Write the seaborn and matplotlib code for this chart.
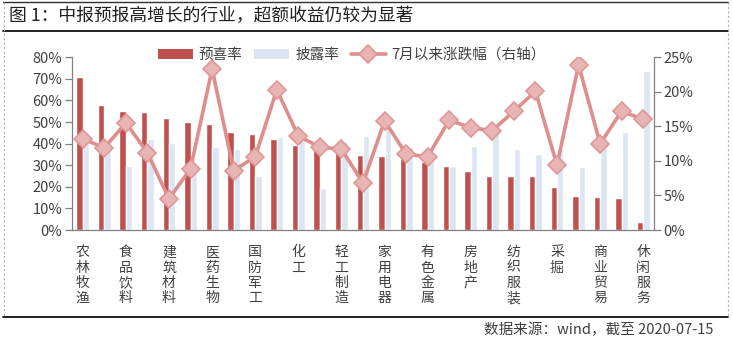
import numpy as np
import pandas as pd
import matplotlib
matplotlib.use("Agg")
import matplotlib.pyplot as plt
from matplotlib.lines import Line2D
from matplotlib.patches import Patch
from matplotlib.ticker import FuncFormatter, FixedLocator
import seaborn as sns

# ---------------- data ----------------
shown_labels = ["农林牧渔", "食品饮料", "建筑材料", "医药生物", "国防军工", "化工", "轻工制造",
                "家用电器", "有色金属", "房地产", "纺织服装", "采掘", "商业贸易", "休闲服务"]
# 27 industries, only every other one is labelled in the source chart
n_cat = 27
yuxi_rate = [71.0, 58.0, 55.1, 54.7, 52.0, 50.0, 49.1, 45.5, 44.5, 42.3, 39.5, 38.3, 36.3, 34.8,
             34.3, 34.0, 31.6, 29.7, 27.3, 25.0, 25.0, 25.0, 19.9, 15.8, 15.3, 14.8, 3.7]
pilu_rate = [44.7, 38.0, 29.8, 42.3, 40.4, 30.1, 38.6, 37.6, 25.1, 43.2, 45.9, 19.6, 41.3, 43.7,
             47.5, 38.4, 35.8, 29.7, 38.9, 45.5, 37.5, 35.2, 37.4, 29.3, 39.0, 45.5, 73.7]
july_change = [13.2, 11.9, 15.5, 11.2, 4.5, 8.9, 23.3, 8.6, 10.6, 20.3, 13.6, 12.0, 11.7, 6.8,
               15.8, 11.0, 10.6, 15.9, 14.8, 14.4, 17.2, 20.1, 9.4, 23.9, 12.5, 17.2, 16.0]
series_names = ["预喜率", "披露率"]
line_name = "7月以来涨跌幅（右轴）"
title = "图 1：中报预报高增长的行业，超额收益仍较为显著"
source = "数据来源：wind，截至 2020-07-15"

pos = list(range(n_cat))
df_bar = pd.DataFrame({
    "pos": pos * 2,
    "value": yuxi_rate + pilu_rate,
    "series": [series_names[0]] * n_cat + [series_names[1]] * n_cat,
})
df_line = pd.DataFrame({"pos": pos, "value": july_change})

# ---------------- style ----------------
sns.set_theme(style="white")
plt.rcParams["font.family"] = ["Noto Sans CJK SC", "DejaVu Sans"]
plt.rcParams["axes.unicode_minus"] = False

red = "#C0504D"
blue = "#DCE6F2"
line_c = "#DF8E8C"
mk_face = "#E8B5B4"
mk_edge = "#DE9896"
txt_c = "#404040"
axis_c = "#808080"

fig = plt.figure(figsize=(7.33, 3.42), dpi=100)
ax = fig.add_axes([72 / 733, 1 - 230 / 342, (654 - 72) / 733, (230 - 57.3) / 342])

sns.barplot(data=df_bar, x="pos", y="value", hue="series", order=pos,
            hue_order=series_names, palette=[red, blue], width=0.6, gap=0,
            saturation=1, ax=ax, legend=False)
ax.set_ylim(0, 80)
ax.set_xlim(-0.5, n_cat - 0.5)
ax.yaxis.set_major_locator(FixedLocator(np.arange(0, 81, 10)))
ax.yaxis.set_major_formatter(FuncFormatter(lambda v, p: f"{v:.0f}%"))
ax.set_xlabel("")
ax.set_ylabel("")

# x ticks: labels at every other category, tick marks at category boundaries
ax.set_xticks(pos[::2])
ax.set_xticklabels(["\n".join(s) for s in shown_labels], fontsize=10, color=txt_c,
                   linespacing=1.12, va="top")
ax.tick_params(axis="x", which="major", length=0, pad=11)
ax.set_xticks(np.arange(-0.5, n_cat, 1.0), minor=True)
ax.tick_params(axis="x", which="minor", length=5, width=0.9, color=axis_c, direction="out")
ax.tick_params(axis="y", length=5, width=0.9, color=axis_c, direction="out",
               labelsize=10.5, labelcolor=txt_c, pad=2, left=True)

for s in ["top", "right"]:
    ax.spines[s].set_visible(False)
for s in ["left", "bottom"]:
    ax.spines[s].set_color(axis_c)
    ax.spines[s].set_linewidth(0.9)

ax2 = ax.twinx()
sns.lineplot(data=df_line, x="pos", y="value", ax=ax2, color=line_c, linewidth=2.6,
             marker="D", markersize=9, markerfacecolor=mk_face, markeredgecolor=mk_edge,
             markeredgewidth=1.2, legend=False)
ax2.set_ylim(0, 25)
ax2.set_xlim(-0.5, n_cat - 0.5)
ax2.yaxis.set_major_locator(FixedLocator(np.arange(0, 26, 5)))
ax2.yaxis.set_major_formatter(FuncFormatter(lambda v, p: f"{v:.0f}%"))
ax2.set_ylabel("")
ax2.set_xlabel("")
ax2.tick_params(axis="y", length=5, width=0.9, color=axis_c, direction="out",
                labelsize=10.5, labelcolor=txt_c, pad=2, right=True)
for s in ["top", "left", "bottom"]:
    ax2.spines[s].set_visible(False)
ax2.spines["right"].set_color(axis_c)
ax2.spines["right"].set_linewidth(0.9)
ax2.grid(False)
ax.grid(False)

# legend
handles = [Patch(facecolor=red, edgecolor="none"),
           Patch(facecolor=blue, edgecolor="none"),
           Line2D([], [], color=line_c, linewidth=2.6, marker="D", markersize=9,
                  markerfacecolor=mk_face, markeredgecolor=mk_edge, markeredgewidth=1.2)]
fig.legend(handles, series_names + [line_name], loc="center left",
           bbox_to_anchor=(158 / 733, 1 - 55 / 342), ncol=3, frameon=False,
           fontsize=10.5, labelcolor=txt_c, handlelength=2.4, handleheight=0.75,
           handletextpad=0.4, columnspacing=0.8, borderaxespad=0, borderpad=0)

# title, source, frame lines
fig.text(9 / 733, 1 - 15.5 / 342, title, fontsize=12.8, color="#202020", va="center", ha="left")
fig.text(713 / 733, 1 - 330 / 342, source, fontsize=10.5, color=txt_c, va="center", ha="right")

def hline(y, x0, x1, **kw):
    fig.add_artist(Line2D([x0 / 733, x1 / 733], [1 - y / 342, 1 - y / 342],
                          transform=fig.transFigure, **kw))

def vline(x, y0, y1, **kw):
    fig.add_artist(Line2D([x / 733, x / 733], [1 - y0 / 342, 1 - y1 / 342],
                          transform=fig.transFigure, **kw))

hline(2, 3, 728, color="#303030", linewidth=1.0)
hline(31, 3, 728, color="#101010", linewidth=1.3)
hline(317, 3, 728, color="#101010", linewidth=1.3)
vline(3.5, 2, 317, color="#B0B0B0", linewidth=0.8, linestyle=(0, (2, 2)))
vline(728, 2, 317, color="#B0B0B0", linewidth=0.8, linestyle=(0, (2, 2)))

fig.savefig("out.png", dpi=100)
